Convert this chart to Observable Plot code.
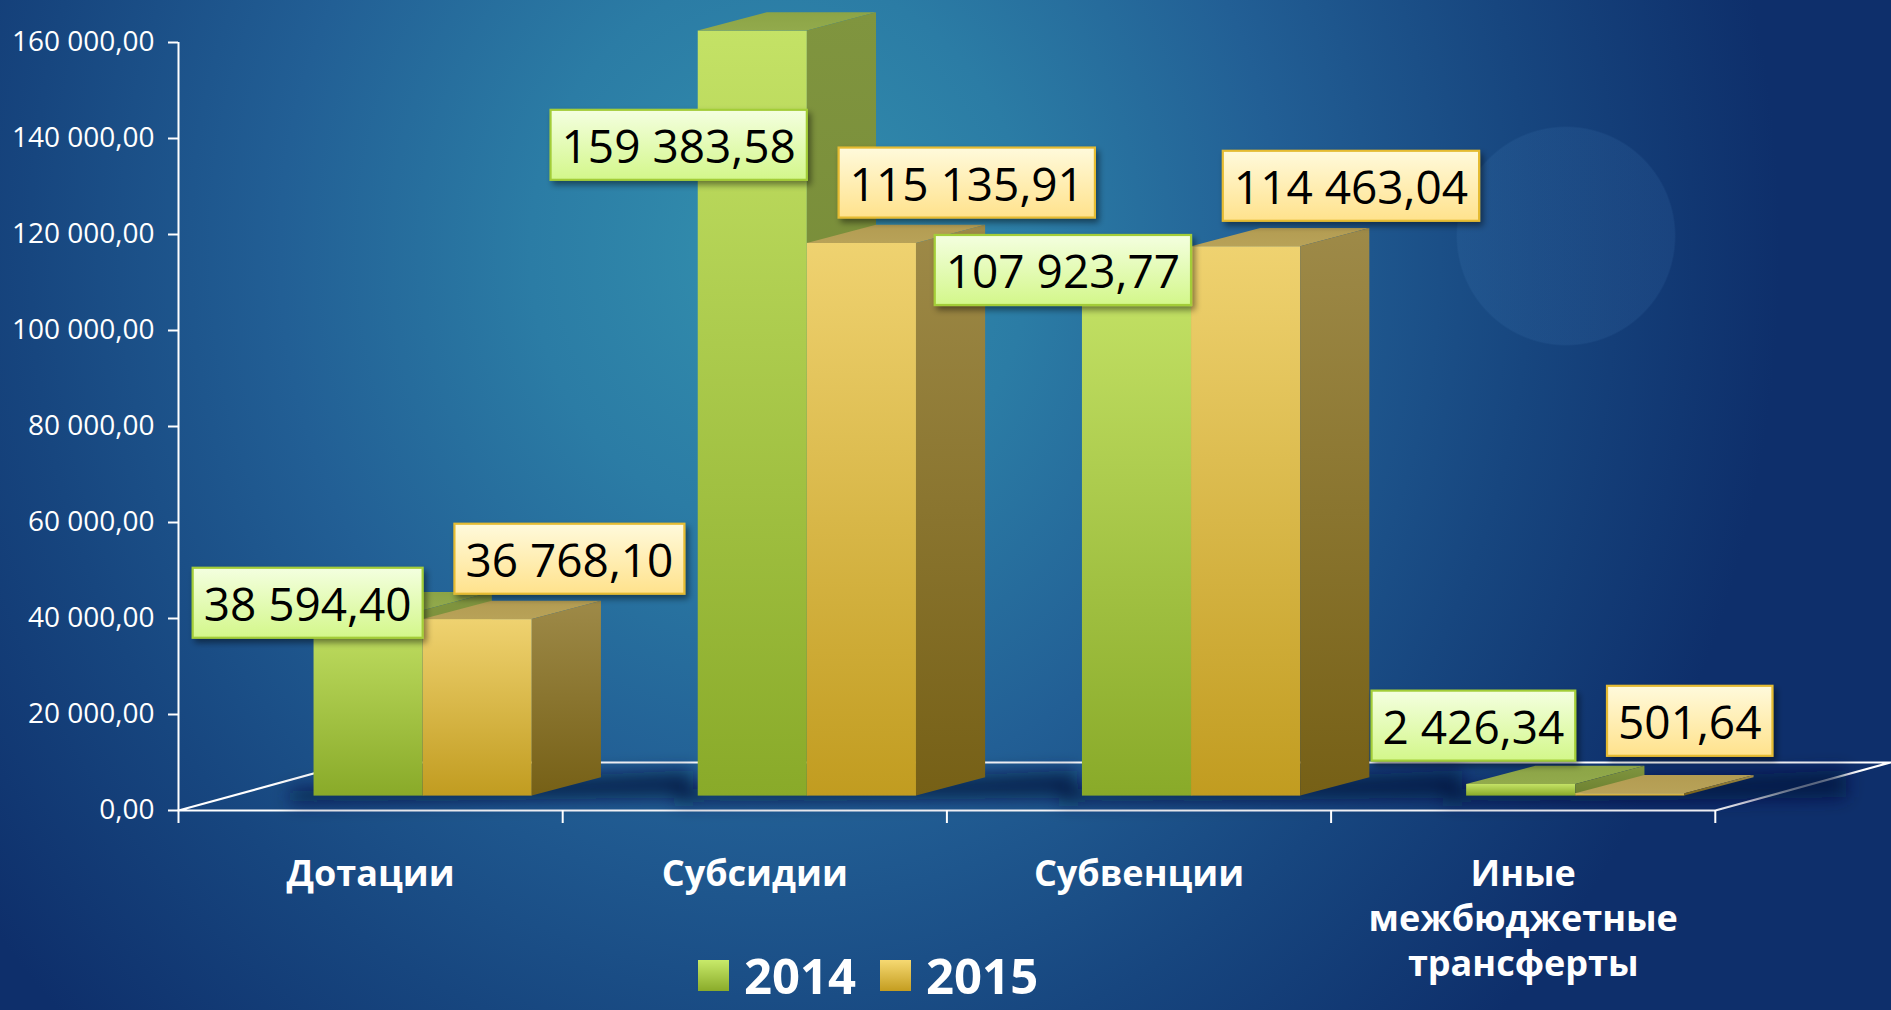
<!DOCTYPE html>
<html>
<head>
<meta charset="utf-8">
<script src="https://cdn.jsdelivr.net/npm/d3@7"></script>
<script src="https://cdn.jsdelivr.net/npm/@observablehq/plot@0.6"></script>
<style>
html, body { margin: 0; padding: 0; }
body {
  width: 1891px; height: 1010px; overflow: hidden; position: relative;
  font-family: "Open Sans", sans-serif;
  background:
    radial-gradient(circle 110px at 1566px 236px, rgba(80,140,200,0.13) 98.5%, rgba(80,140,200,0) 100%),
    radial-gradient(ellipse 1000px 1100px at 780px 250px, #3390ae 0%, #2b7ca5 25%, #225f95 50%, #17467f 75%, #0e2f6b 100%);
}
#chart { position: absolute; left: 0; top: 0; }
#legend {
  position: absolute; left: 698px; top: 940px; height: 70px;
  display: flex; align-items: center; color: #fff;
  font-family: "Open Sans", sans-serif; font-weight: 700; font-size: 49px; line-height: 66px;
}
#legend .sw { width: 31px; height: 31px; margin-right: 15px; }
#legend .item { display: flex; align-items: center; margin-right: 24px; }
</style>
</head>
<body>
<div id="chart"></div>
<div id="legend"></div>
<script>
// ---------- data ----------
const categories = ["Дотации", "Субсидии", "Субвенции", "Иные межбюджетные трансферты"];
const years = ["2014", "2015"];
const values2014 = [38594.40, 159383.58, 107923.77, 2426.34];
const values2015 = [36768.10, 115135.91, 114463.04, 501.64];
const yTicks = [0, 20000, 40000, 60000, 80000, 100000, 120000, 140000, 160000];
const boundaryTicks = [0, 1, 2, 3, 4];

// ---------- pseudo-3D geometry (in scale units) ----------
const FLOOR_DX = 0.456, FLOOR_DY = 10000;   // floor depth
const FRONT = 0.30;                          // bars' front plane, as fraction of floor depth
const BASE = FLOOR_DY * FRONT;
const SHIFT = FLOOR_DX * FRONT;
const BAR_W = 0.284;
const BAR_DX = 0.18, BAR_DY = 3800;          // bar depth

const fmt = d3.formatLocale({decimal: ",", thousands: " ", grouping: [3], currency: ["", ""]}).format(",.2f");

const seriesList = [
  {year: years[0], values: values2014, key: "g"},
  {year: years[1], values: values2015, key: "y"}
];

function barsOf(s, si) {
  return categories.map((c, i) => {
    const x1 = i + 0.5 + SHIFT - BAR_W + si * BAR_W;
    return {c, i, v: s.values[i], x1, x2: x1 + BAR_W, top: BASE + s.values[i]};
  });
}

const floorPts = [
  {x: 0, y: 0}, {x: 4, y: 0}, {x: 4 + FLOOR_DX, y: FLOOR_DY},
  {x: FLOOR_DX, y: FLOOR_DY}, {x: 0, y: 0}
];

const shadowPts = categories.flatMap((c, i) => [
  {i, x: i + 0.5 + SHIFT - BAR_W - 0.06, y1: BASE - 1500, y2: BASE + 1200},
  {i, x: i + 0.5 + SHIFT + BAR_W + 0.42, y1: BASE - 300, y2: BASE + BAR_DY + 1500}
]);

const SHADOW_FILL = "#05163a";

const marks = [
  Plot.line(floorPts, {x: "x", y: "y", stroke: "white", strokeWidth: 2.2}),
  Plot.areaY(shadowPts, {x: "x", y1: "y1", y2: "y2", z: "i", curve: "linear",
    fill: SHADOW_FILL, fillOpacity: 0.75})
];

seriesList.forEach((s, si) => {
  const bars = barsOf(s, si);
  const topPts = bars.flatMap(b => [
    {i: b.i, y: b.top, x1: b.x1, x2: b.x2},
    {i: b.i, y: b.top + BAR_DY, x1: b.x1 + BAR_DX, x2: b.x2 + BAR_DX}
  ]);
  const sidePts = bars.flatMap(b => [
    {i: b.i, x: b.x2, y1: BASE, y2: b.top},
    {i: b.i, x: b.x2 + BAR_DX, y1: BASE + BAR_DY, y2: b.top + BAR_DY}
  ]);
  marks.push(
    Plot.rect(bars, {x1: "x1", x2: "x2", y1: () => BASE, y2: "top", fill: `url(#front-${s.key})`}),
    Plot.areaX(topPts, {y: "y", x1: "x1", x2: "x2", z: "i", curve: "linear", fill: `url(#top-${s.key})`}),
    Plot.areaY(sidePts, {x: "x", y1: "y1", y2: "y2", z: "i", curve: "linear", fill: `url(#side-${s.key})`})
  );
});

// value labels (placement rule: 2014 ends at the pair's seam, 2015 starts right of it, above the bar)
const labels2014 = barsOf(seriesList[0], 0).map(b => ({
  x: b.x2 - 0.03,
  y: BASE + Math.min(Math.max(b.v + 1000, 14000), 135000),
  t: fmt(b.v)
}));
const labels2015 = barsOf(seriesList[1], 1).map(b => ({
  x: b.x1 + 0.11,
  y: BASE + Math.max(b.v + 12000, 15000),
  t: fmt(b.v)
}));

marks.push(
  Plot.ruleX([0], {y1: 0, y2: 160000, stroke: "white", strokeWidth: 2}),
  Plot.axisY({ticks: yTicks, tickFormat: fmt, tickSize: 10, tickPadding: 14, strokeWidth: 2,
    label: null, fontSize: 28}),
  Plot.axisX({ticks: boundaryTicks, tickFormat: () => "", tickSize: 13, strokeWidth: 2, label: null}),
  Plot.text(categories, {
    x: (d, i) => i + 0.5, y: () => 0, text: d => d.replace(/ /g, "\n"),
    dy: 43, lineAnchor: "top", lineHeight: 1.26, fontSize: 36, fontWeight: 700, fill: "white"
  }),
  Plot.text(labels2014, {x: "x", y: "y", text: "t", textAnchor: "end", fontSize: 46, fill: "black"}),
  Plot.text(labels2015, {x: "x", y: "y", text: "t", textAnchor: "start", fontSize: 46, fill: "black"})
);

const svg = Plot.plot({
  width: 1891, height: 1010,
  marginLeft: 178, marginRight: 1, marginTop: 42, marginBottom: 200,
  x: {domain: [0, 4 + FLOOR_DX]},
  y: {domain: [0, 160000]},
  style: {background: "transparent", color: "white", fontFamily: "Open Sans, sans-serif", fontSize: "28px", overflow: "visible"},
  marks
});

document.getElementById("chart").append(svg);

// ---------- gradients / filters ----------
const defs = `
<defs>
  <linearGradient id="front-g" x1="0" y1="0" x2="0" y2="1"><stop offset="0" stop-color="#c4e266"/><stop offset="1" stop-color="#89aa29"/></linearGradient>
  <linearGradient id="side-g" x1="0" y1="0" x2="0" y2="1"><stop offset="0" stop-color="#80953f"/><stop offset="1" stop-color="#6c8030"/></linearGradient>
  <linearGradient id="top-g" x1="0" y1="0" x2="0" y2="1"><stop offset="0" stop-color="#8ca446"/><stop offset="1" stop-color="#92aa4c"/></linearGradient>
  <linearGradient id="front-y" x1="0" y1="0" x2="0" y2="1"><stop offset="0" stop-color="#efd270"/><stop offset="1" stop-color="#c19c20"/></linearGradient>
  <linearGradient id="side-y" x1="0" y1="0" x2="0" y2="1"><stop offset="0" stop-color="#9e8a48"/><stop offset="1" stop-color="#766016"/></linearGradient>
  <linearGradient id="top-y" x1="0" y1="0" x2="0" y2="1"><stop offset="0" stop-color="#b39c52"/><stop offset="1" stop-color="#b8a258"/></linearGradient>
  <linearGradient id="box-g" x1="0" y1="0" x2="0" y2="1"><stop offset="0" stop-color="#f4ffe0"/><stop offset="1" stop-color="#d3f78a"/></linearGradient>
  <linearGradient id="box-y" x1="0" y1="0" x2="0" y2="1"><stop offset="0" stop-color="#fffadc"/><stop offset="1" stop-color="#ffe28c"/></linearGradient>
  <filter id="blur" x="-30%" y="-100%" width="160%" height="300%"><feGaussianBlur stdDeviation="9"/></filter>
  <filter id="boxshadow" x="-10%" y="-20%" width="130%" height="150%"><feDropShadow dx="3" dy="4" stdDeviation="3" flood-color="#000" flood-opacity="0.45"/></filter>
</defs>`;
svg.insertAdjacentHTML("afterbegin", defs);

// blur the floor shadows
for (const g of svg.querySelectorAll("g")) {
  if ((g.getAttribute("fill") || "").toLowerCase() === SHADOW_FILL) g.setAttribute("filter", "url(#blur)");
}

// boxes behind the value labels
const keyOfLabel = new Map([
  ...labels2014.map(d => [d.t, "g"]),
  ...labels2015.map(d => [d.t, "y"])
]);
const strokes = {g: "#a3cd38", y: "#e5bb33"};
for (const t of Array.from(svg.querySelectorAll("text"))) {
  const key = keyOfLabel.get(t.textContent);
  if (!key) continue;
  const bb = t.getBBox();
  const padX = 11, padTop = 4, padBot = 4;
  const r = document.createElementNS("http://www.w3.org/2000/svg", "rect");
  r.setAttribute("x", bb.x - padX);
  r.setAttribute("y", bb.y - padTop);
  r.setAttribute("width", bb.width + 2 * padX);
  r.setAttribute("height", bb.height + padTop + padBot);
  r.setAttribute("fill", `url(#box-${key})`);
  r.setAttribute("stroke", strokes[key]);
  r.setAttribute("stroke-width", "2.2");
  r.setAttribute("filter", "url(#boxshadow)");
  const tr = t.getAttribute("transform");
  if (tr) r.setAttribute("transform", tr);
  t.parentNode.insertBefore(r, t);
}

// ---------- legend ----------
const swatch = {"2014": "linear-gradient(#c8ea6a, #8aab2a)", "2015": "linear-gradient(#f6d972, #c49d20)"};
const legend = document.getElementById("legend");
years.forEach(y => {
  const item = document.createElement("div");
  item.className = "item";
  const sw = document.createElement("div");
  sw.className = "sw";
  sw.style.background = swatch[y];
  const tx = document.createElement("span");
  tx.textContent = y;
  item.append(sw, tx);
  legend.append(item);
});
</script>
</body>
</html>
